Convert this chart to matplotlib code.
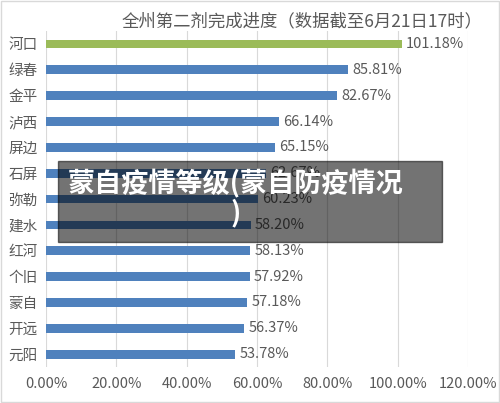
import matplotlib.pyplot as plt
from matplotlib.patches import Rectangle

plt.rcParams['font.family'] = ['Noto Sans CJK SC', 'DejaVu Sans']

regions = ["河口", "绿春", "金平", "泸西", "屏边", "石屏", "弥勒", "建水",
           "红河", "个旧", "蒙自", "开远", "元阳"]
rates = [101.18, 85.81, 82.67, 66.14, 65.15, 62.67, 60.23, 58.20,
         58.13, 57.92, 57.18, 56.37, 53.78]
x_ticks = [0, 20, 40, 60, 80, 100, 120]

grey = "#595959"
colors = ["#9BBB59"] + ["#4F81BD"] * (len(regions) - 1)

fig = plt.figure(figsize=(5, 4.03), dpi=100)
ax = fig.add_axes([0.092, 0.089, 0.844, 0.834])

y = list(range(len(regions)))
ax.barh(y, rates, height=0.34, color=colors, zorder=3)
for yi, v in zip(y, rates):
    ax.text(v + 1.2, yi, f"{v:.2f}%", va="center", ha="left",
            fontsize=10.5, color=grey, zorder=4)

ax.set_ylim(len(regions) - 0.5, -0.5)
ax.set_xlim(0, 120)
ax.set_yticks(y)
ax.set_yticklabels(regions, fontsize=10.5, color=grey)
ax.set_xticks(x_ticks)
ax.set_xticklabels([f"{t:.2f}%" for t in x_ticks], fontsize=10.5, color=grey)
ax.tick_params(axis="x", length=0, pad=7)
ax.tick_params(axis="y", length=0, pad=6)
ax.grid(axis="x", color="#D9D9D9", linewidth=0.8, zorder=0)
for s in ax.spines.values():
    s.set_visible(False)

fig.text(0.605, 0.948, "全州第二剂完成进度（数据截至6月21日17时）",
         ha="center", va="center", fontsize=12.5, color=grey)

# overlay caption box
fig.patches.append(Rectangle((58 / 500, 1 - 242 / 403), 384 / 500, 81 / 403,
                             transform=fig.transFigure, color="black",
                             alpha=0.55, zorder=10))
fig.text(0.472, 1 - 198 / 403, "蒙自疫情等级(蒙自防疫情况\n)",
         ha="center", va="center", multialignment="center",
         fontsize=19.5, fontweight="bold", color="white", zorder=11,
         linespacing=1.0)

# outer frame
fig.patches.append(Rectangle((0.002, 0.002), 0.996, 0.995,
                             transform=fig.transFigure, fill=False,
                             edgecolor="#D9D9D9", linewidth=1))

fig.savefig("out.png", dpi=100)
